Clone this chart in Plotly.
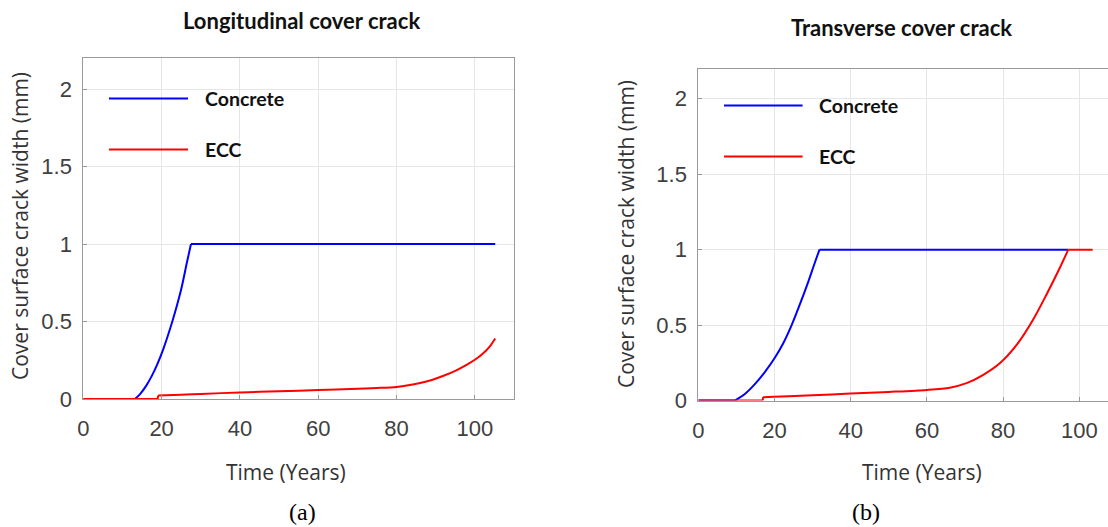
import plotly.graph_objects as go

# ---------------- data ----------------
# (a) Longitudinal cover crack
long_concrete_years = [0, 13.2, 14.5, 16, 17.5, 19, 20.5, 22, 23.5, 25, 26.5, 27.5, 105.2]
long_concrete_width = [0, 0, 0.032, 0.083, 0.149, 0.23, 0.327, 0.44, 0.566, 0.708, 0.885, 1.0, 1.0]

long_ecc_years = [0, 19, 19.1, 25, 30, 40, 50, 60, 70, 75, 80, 83, 86, 89, 92, 95, 98, 100, 102, 104, 105.2]
long_ecc_width = [0, 0, 0.022, 0.028, 0.033, 0.042, 0.05, 0.058, 0.066, 0.071, 0.078, 0.088, 0.103, 0.123,
                  0.15, 0.182, 0.222, 0.253, 0.292, 0.345, 0.39]

# (b) Transverse cover crack
trans_concrete_years = [0, 9.6, 12.3, 14.9, 17.5, 20.0, 22.3, 24.5, 26.7, 28.9, 30.4, 31.8, 97.1]
trans_concrete_width = [0, 0, 0.045, 0.11, 0.19, 0.28, 0.38, 0.5, 0.64, 0.79, 0.9, 1.0, 1.0]

trans_ecc_years = [0, 16.9, 17.0, 20, 30, 40, 50, 60, 66, 70.4, 74.8, 79.2, 83.6, 87.9, 91.4, 94.9, 97.1, 103.5]
trans_ecc_width = [0, 0, 0.022, 0.025, 0.035, 0.046, 0.057, 0.07, 0.085, 0.115, 0.17, 0.248, 0.37, 0.537,
                   0.703, 0.88, 1.0, 1.0]

# indices where a curve has a sharp corner (segments between them are drawn separately)
long_concrete_corners = [1, 11]
long_ecc_corners = [1, 2]
trans_concrete_corners = [1, 11]
trans_ecc_corners = [1, 2, 16]

panel_titles = ["Longitudinal cover crack", "Transverse cover crack"]
panel_captions = ["(a)", "(b)"]
series_names = ["Concrete", "ECC"]
series_colors = ["#0000ff", "#ff0000"]
x_ticks = [0, 20, 40, 60, 80, 100]
y_ticks = [0, 0.5, 1, 1.5, 2]
x_title = "Time (Years)"
y_title = "Cover surface crack width (mm)"

# ---------------- figure ----------------
W, H = 1108, 527
fig = go.Figure()


def add_series(xs, ys, corners, color, xa, ya):
    cuts = [0] + corners + [len(xs) - 1]
    for a, b in zip(cuts[:-1], cuts[1:]):
        seg_x = xs[a:b + 1]
        seg_y = ys[a:b + 1]
        shape = "spline" if len(seg_x) > 2 else "linear"
        fig.add_trace(go.Scatter(x=seg_x, y=seg_y, mode="lines", xaxis=xa, yaxis=ya,
                                 line=dict(color=color, width=2, shape=shape, smoothing=0.8),
                                 showlegend=False, hoverinfo="skip"))


add_series(long_concrete_years, long_concrete_width, long_concrete_corners, series_colors[0], "x", "y")
add_series(long_ecc_years, long_ecc_width, long_ecc_corners, series_colors[1], "x", "y")
add_series(trans_concrete_years, trans_concrete_width, trans_concrete_corners, series_colors[0], "x2", "y2")
add_series(trans_ecc_years, trans_ecc_width, trans_ecc_corners, series_colors[1], "x2", "y2")


def px(x):
    return x / W


def py(y):
    return 1 - y / H


# plot areas in pixels: (left, right, top, bottom)
areas = [(83.3, 514.0, 58.0, 399.0), (698.3, 1108.0, 68.6, 400.5)]
x_ranges = [[0, 110], [0, (1108.0 - 698.3) / 3.81]]

axis_common = dict(
    showgrid=True, gridcolor="#e6e6e6", gridwidth=1,
    showline=True, linecolor="#9a9a9a", linewidth=1, mirror=True,
    ticks="inside", ticklen=4, tickcolor="#9a9a9a",
    tickfont=dict(family="Liberation Sans, Arial", size=22, color="#404040"),
    zeroline=False, automargin=False,
)

for i, (l, r, t, b) in enumerate(areas):
    sfx = "" if i == 0 else str(i + 1)
    fig.layout["xaxis" + sfx] = dict(
        domain=[px(l), px(r)], range=x_ranges[i], anchor="y" + sfx,
        tickmode="array", tickvals=x_ticks, ticklabelstandoff=10, **axis_common)
    fig.layout["yaxis" + sfx] = dict(
        domain=[py(b), py(t)], range=[0, 2.2], anchor="x" + sfx,
        tickmode="array", tickvals=y_ticks, ticktext=[f"{v:g}" for v in y_ticks],
        ticklabelstandoff=6, **axis_common)

annotations = []
shapes = []

title_pos = [(301, 21), (901, 27)]
xtitle_pos = [(286, 472), (922, 472)]
ytitle_pos = [(20, 226), (626, 234)]
caption_pos = [(302, 512), (866, 512)]
legend_pos = [(109, 188, 202.5, 98.4, 149.5), (724, 802.6, 817.4, 105.5, 156.6)]

for i in range(2):
    annotations.append(dict(text=panel_titles[i], x=px(title_pos[i][0]), y=py(title_pos[i][1]),
                            xref="paper", yref="paper", showarrow=False, xanchor="center", yanchor="middle",
                            font=dict(family="Lato", size=22, color="#111111", weight="bold")))
    annotations.append(dict(text=x_title, x=px(xtitle_pos[i][0]), y=py(xtitle_pos[i][1]),
                            xref="paper", yref="paper", showarrow=False, xanchor="center", yanchor="middle",
                            font=dict(family="Open Sans", size=21, color="#333333")))
    annotations.append(dict(text=y_title, x=px(ytitle_pos[i][0]), y=py(ytitle_pos[i][1]),
                            xref="paper", yref="paper", showarrow=False, xanchor="center", yanchor="middle",
                            textangle=-90,
                            font=dict(family="Open Sans", size=21, color="#333333")))
    annotations.append(dict(text=panel_captions[i], x=px(caption_pos[i][0]), y=py(caption_pos[i][1]),
                            xref="paper", yref="paper", showarrow=False, xanchor="center", yanchor="middle",
                            font=dict(family="Liberation Serif", size=24, color="#000000")))
    lx0, lx1, tx, y1, y2 = legend_pos[i]
    for name, color, yy in zip(series_names, series_colors, [y1, y2]):
        shapes.append(dict(type="line", xref="paper", yref="paper",
                           x0=px(lx0), x1=px(lx1), y0=py(yy), y1=py(yy),
                           line=dict(color=color, width=2)))
        annotations.append(dict(text=name, x=px(tx), y=py(yy), xref="paper", yref="paper",
                                showarrow=False, xanchor="left", yanchor="middle",
                                font=dict(family="Lato", size=19.5, color="#111111", weight="bold")))

fig.update_layout(
    width=W, height=H,
    margin=dict(l=0, r=0, t=0, b=0, pad=0, autoexpand=False),
    paper_bgcolor="white", plot_bgcolor="white",
    showlegend=False,
    annotations=annotations, shapes=shapes,
)

fig.write_html("out.html",
               config={"displayModeBar": False},
               post_script="document.body.style.margin='0';document.body.style.padding='0';"
                           "document.body.style.overflow='hidden';")
